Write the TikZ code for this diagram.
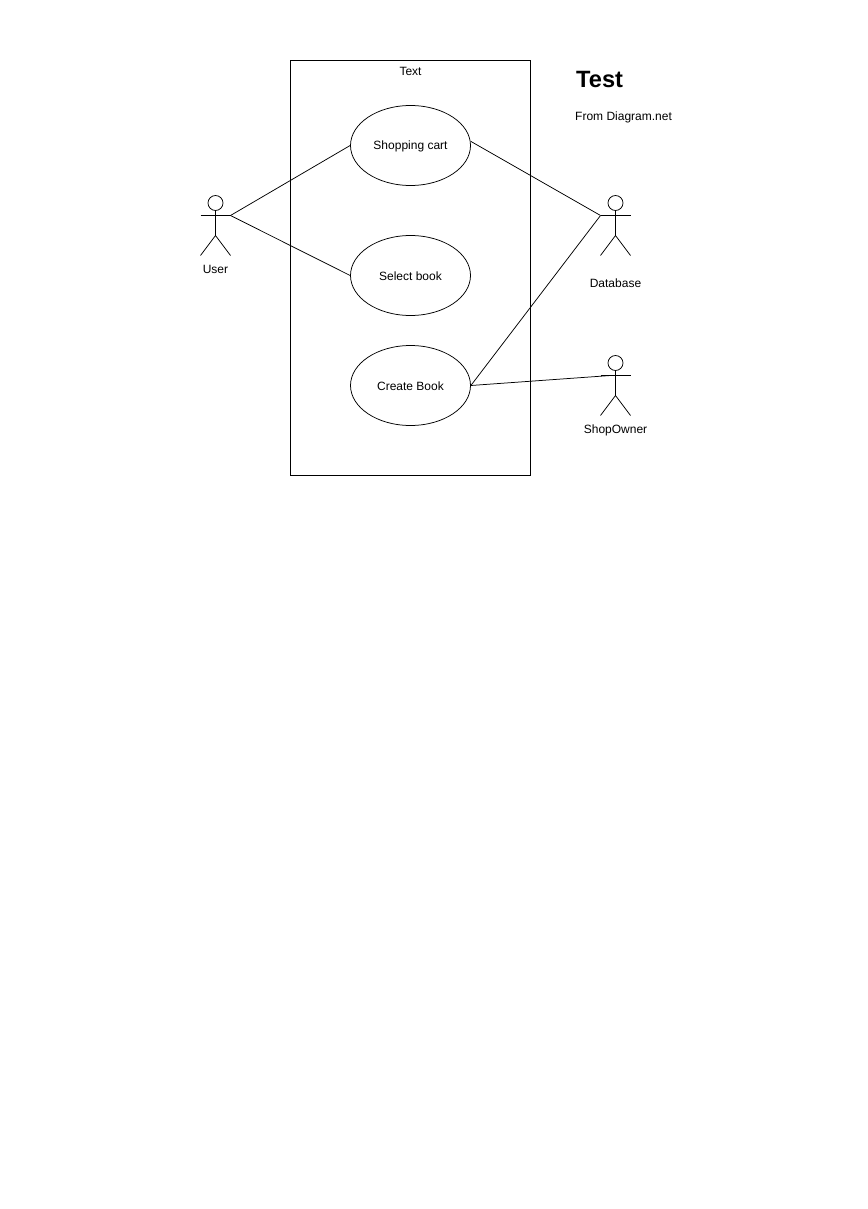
\documentclass[tikz,border=0pt]{standalone}
\usepackage{fontspec}
\setmainfont{Liberation Sans}
\usetikzlibrary{shapes.geometric}
\begin{document}
\begin{tikzpicture}[x=1pt,y=-1pt,
  usecase/.style={draw,ellipse,minimum width=120pt,minimum height=80pt,inner sep=0pt,line width=0.75pt,font=\fontsize{12}{14}\selectfont,text height=12pt,text depth=3pt},
  lbl/.style={font=\fontsize{12}{14}\selectfont,inner sep=0pt,text height=12pt,text depth=3pt},
  stick/.style={line width=0.75pt}
]
\useasboundingbox (0,0) rectangle (867,1209);
\fill[white] (0,0) rectangle (867,1209);
\draw[stick] (290.5,60.5) rectangle (530.5,475.5);
\node[lbl] (title) at (410.5,71) {Text};
\node[usecase] (cart) at (410.5,145.5) {Shopping cart};
\node[usecase] (select) at (410.5,275.5) {Select book};
\node[usecase] (create) at (410.5,385.5) {Create Book};
% actors
\newcommand{\actor}[2]{%
  \draw[stick] (#1,#2) circle (7.5);
  \draw[stick] (#1,#2+7.5) -- (#1,#2+32.5);
  \draw[stick] (#1-15,#2+12.5) -- (#1+15,#2+12.5);
  \draw[stick] (#1-15,#2+52.5) -- (#1,#2+32.5) -- (#1+15,#2+52.5);
}
\actor{215.5}{203}
\actor{615.5}{203}
\actor{615.5}{363}
\coordinate (userR) at (230.5,215.5);
\coordinate (dbL) at (600.5,215.5);
\coordinate (ownerN) at (610.5,375.5);
\coordinate (cartE) at (471,141.5);
\node[lbl] (user) at (215.5,268.5) {User};
\node[lbl] (db) at (615.5,282.5) {Database};
\node[lbl] (owner) at (615.5,428.5) {ShopOwner};
\draw[stick] (userR) -- (cart.west);
\draw[stick] (userR) -- (select.west);
\draw[stick] (cartE) -- (dbL);
\draw[stick] (create.east) -- (dbL);
\draw[stick] (create.east) -- (ownerN);
\node[font=\bfseries\fontsize{23.6}{28}\selectfont,anchor=west,inner sep=0pt,text height=17pt,text depth=0pt] (test) at (576,79.5) {Test};
\node[lbl,anchor=west] (from) at (575,116.5) {From Diagram.net};
\end{tikzpicture}
\end{document}
